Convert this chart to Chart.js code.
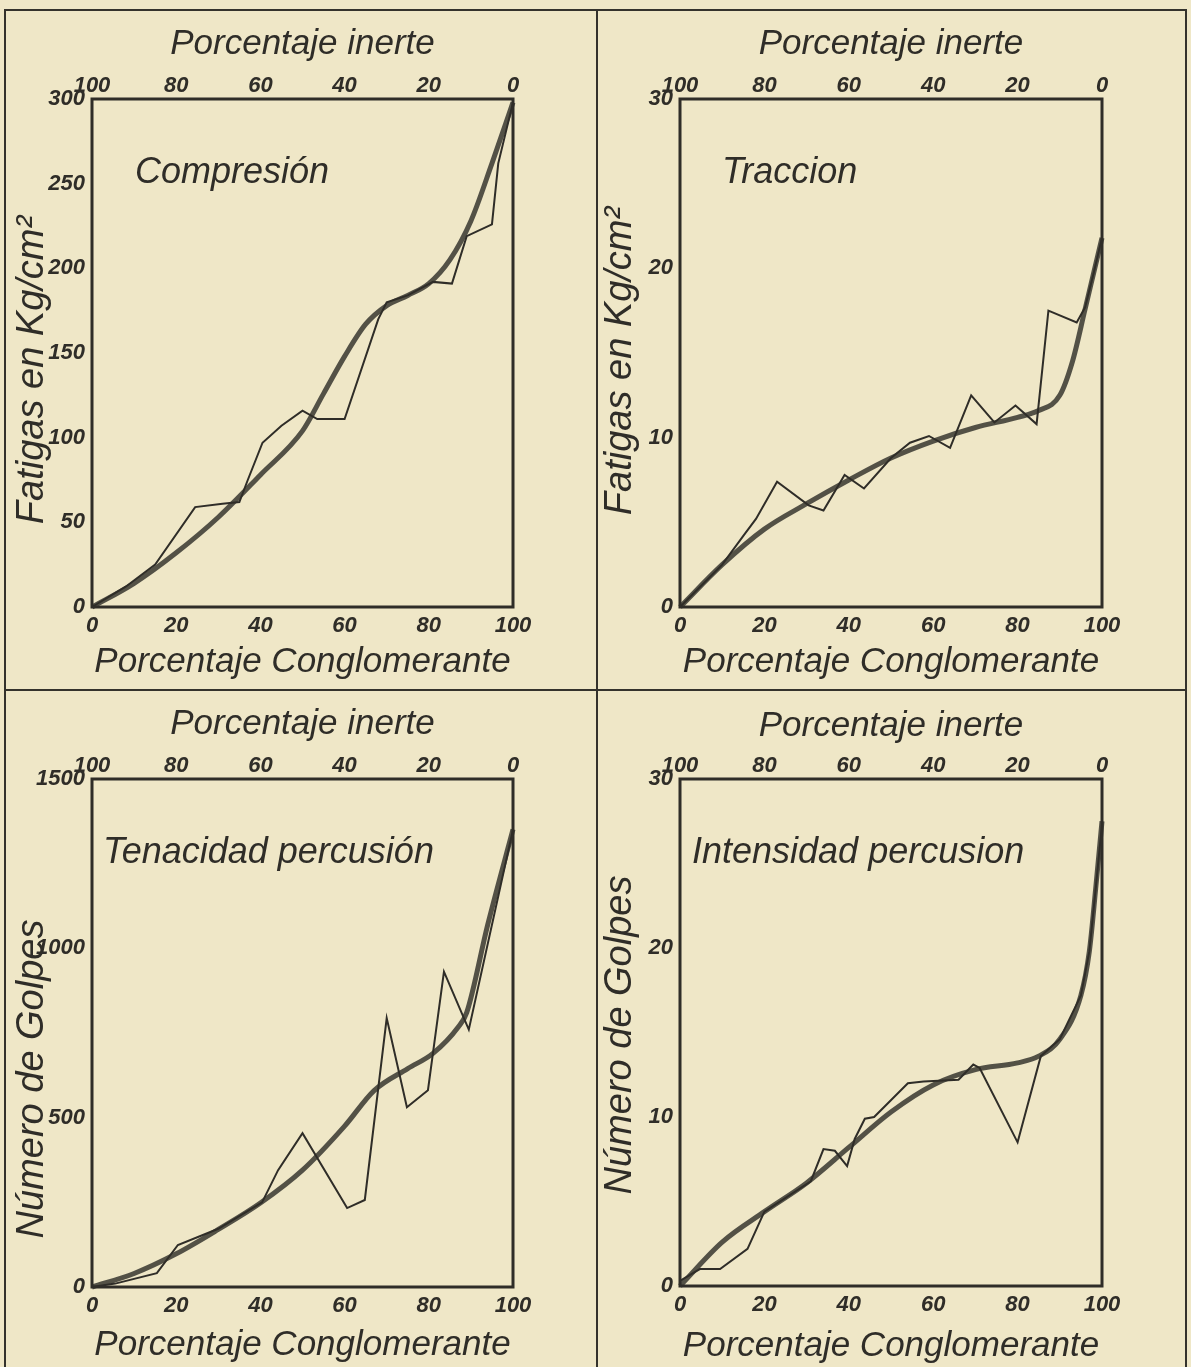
<!DOCTYPE html>
<html>
<head>
<meta charset="utf-8">
<script src="https://cdn.jsdelivr.net/npm/chart.js@4.4.1/dist/chart.umd.min.js"></script>
<style>
  body { margin: 0; background: #efe7c7; }
  #page { position: relative; width: 1191px; height: 1367px; overflow: hidden; background: #efe7c7; }
  canvas { position: absolute; }
  .rule { position: absolute; background: #34322c; }
</style>
</head>
<body>
<div id="page">
  <div class="rule" style="left:5px;top:9px;width:1182px;height:2px"></div>
  <div class="rule" style="left:4px;top:9px;width:2px;height:1358px"></div>
  <div class="rule" style="left:1185px;top:9px;width:2px;height:1358px"></div>
  <div class="rule" style="left:5px;top:689px;width:1182px;height:2px"></div>
  <div class="rule" style="left:596px;top:9px;width:2px;height:1358px"></div>
  <canvas id="c1" width="596" height="690" style="left:0;top:0"></canvas>
  <canvas id="c2" width="595" height="690" style="left:596px;top:0"></canvas>
  <canvas id="c3" width="596" height="677" style="left:0;top:690px"></canvas>
  <canvas id="c4" width="595" height="677" style="left:596px;top:690px"></canvas>
</div>
<script>
// tick labels
const conglomeranteTicks = [0, 20, 40, 60, 80, 100];
const inerteTicks = [100, 80, 60, 40, 20, 0];
const compTicks = [0, 50, 100, 150, 200, 250, 300];
const tracTicks = [0, 10, 20, 30];
const tenaTicks = [0, 500, 1000, 1500];
const inteTicks = [0, 10, 20, 30];

// Compresion (Kg/cm2)
const compMeasX = [0, 8, 15, 24.5, 31, 35, 37, 40.5, 45, 50, 53.5, 60, 68, 70, 75, 81, 85.5, 89, 95, 96.5, 100];
const compMeasY = [0, 12, 25, 59, 61, 62, 75, 97, 107, 116, 111, 111, 170, 180, 184, 192, 191, 219, 226, 262, 298];
const compFitX = [0, 10, 20, 30, 40, 50, 55, 60, 65, 70, 75, 80, 85, 90, 95, 100];
const compFitY = [0, 14, 32, 53, 78, 104, 126, 148, 167, 178, 184, 191, 205, 228, 262, 298];

// Traccion (Kg/cm2)
const tracMeasX = [0, 10, 15, 18, 23, 30.5, 34, 39, 43.6, 50, 54.5, 59, 64, 69, 74.5, 79.5, 84.5, 87.3, 94, 96, 98, 100];
const tracMeasY = [0, 2.5, 4.2, 5.2, 7.4, 6.0, 5.7, 7.8, 7.0, 8.8, 9.7, 10.1, 9.4, 12.5, 10.9, 11.9, 10.8, 17.5, 16.8, 17.7, 19.7, 21.8];
const tracFitX = [0, 10, 20, 30, 40, 50, 60, 70, 80, 85, 90, 93, 96, 98, 100];
const tracFitY = [0, 2.5, 4.6, 6.1, 7.5, 8.8, 9.8, 10.6, 11.2, 11.6, 12.5, 14.5, 17.6, 19.7, 21.8];

// Tenacidad percusion (golpes)
const tenaMeasX = [0, 5.5, 15.4, 20.4, 30, 40.4, 44.2, 50, 60.6, 64.8, 70, 74.8, 79.8, 83.6, 89.5, 100];
const tenaMeasY = [0, 10, 41, 124, 172, 250, 345, 454, 233, 257, 794, 531, 581, 931, 760, 1351];
const tenaFitX = [0, 10, 20, 30, 40, 50, 60, 67, 75, 81, 87, 89, 94, 100];
const tenaFitY = [0, 40, 98, 170, 248, 345, 475, 580, 645, 690, 768, 810, 1070, 1351];

// Intensidad percusion (golpes)
const inteMeasX = [0, 4.7, 9.5, 16, 20, 31, 34, 36.7, 39.6, 41.4, 43.8, 46, 54, 57.7, 66, 69.5, 71, 80, 85.5, 90, 95, 97, 98.5, 100];
const inteMeasY = [0.3, 1.0, 1.0, 2.2, 4.4, 6.2, 8.1, 8.0, 7.1, 8.7, 9.9, 10.0, 12.0, 12.1, 12.2, 13.1, 12.9, 8.5, 13.6, 14.6, 17.2, 19.8, 23.5, 27.3];
const inteFitX = [0, 10, 20, 30, 40, 50, 60, 70, 80, 85, 90, 95, 97, 98.5, 100];
const inteFitY = [0, 2.6, 4.4, 6.1, 8.2, 10.3, 11.9, 12.8, 13.2, 13.6, 14.6, 17.2, 19.8, 23.5, 27.5];

const ink = '#2f2d28';
const family = '"Liberation Sans", Arial, sans-serif';

function zip(xs, ys) {
  return xs.map((x, i) => ({ x: x, y: ys[i] }));
}

// box around the plot area
const frame = {
  id: 'frame',
  afterDraw(chart) {
    const { ctx, chartArea: a } = chart;
    ctx.save();
    ctx.strokeStyle = ink;
    ctx.lineWidth = 3;
    ctx.strokeRect(a.left, a.top, a.right - a.left, a.bottom - a.top);
    ctx.restore();
  }
};

// label inside the plot and the vertical axis title
const panelText = {
  id: 'panelText',
  afterDraw(chart, args, o) {
    const { ctx, chartArea: a } = chart;
    ctx.save();
    ctx.fillStyle = ink;
    ctx.textBaseline = 'middle';
    ctx.textAlign = 'left';
    ctx.font = 'italic 36px ' + family;
    ctx.fillText(o.label, a.left + o.labelX, a.top + 74);
    ctx.translate(a.left - 60, a.top + o.yTitleY);
    ctx.rotate(-Math.PI / 2);
    ctx.textAlign = 'center';
    ctx.font = 'italic 38px ' + family;
    ctx.fillText(o.yTitle, 0, 0);
    ctx.restore();
  }
};

function panel(id, p) {
  const tickFont = { family: family, style: 'italic', weight: 'bold', size: 22 };
  const titleFont = { family: family, style: 'italic', size: 35 };
  return new Chart(document.getElementById(id), {
    type: 'line',
    data: {
      datasets: [
        {
          label: 'Ensayos',
          data: zip(p.mx, p.my),
          borderColor: ink,
          borderWidth: 2,
          tension: 0,
          pointRadius: 0,
          clip: false
        },
        {
          label: 'Curva media',
          data: zip(p.fx, p.fy),
          borderColor: 'rgba(62,60,52,0.88)',
          borderWidth: 5,
          cubicInterpolationMode: 'monotone',
          pointRadius: 0,
          clip: false
        }
      ]
    },
    options: {
      responsive: false,
      animation: false,
      events: [],
      layout: { padding: { right: p.padR } },
      plugins: {
        legend: { display: false },
        tooltip: { enabled: false },
        panelText: { label: p.label, labelX: p.labelX, yTitle: p.yTitle, yTitleY: p.yTitleY }
      },
      scales: {
        x: {
          type: 'linear',
          position: 'bottom',
          min: 0,
          max: 100,
          grid: { display: false, drawTicks: false },
          border: { display: false },
          afterFit: s => { s.height = p.bottomH; },
          afterBuildTicks: s => { s.ticks = conglomeranteTicks.map(v => ({ value: v })); },
          ticks: { font: tickFont, color: ink, padding: 6, maxRotation: 0, autoSkip: false, callback: v => String(v) },
          title: {
            display: true,
            text: 'Porcentaje Conglomerante',
            font: titleFont,
            color: ink,
            padding: { top: 0, bottom: p.bottomTitlePad }
          }
        },
        x2: {
          type: 'linear',
          axis: 'x',
          position: 'top',
          min: 0,
          max: 100,
          reverse: true,
          grid: { display: false, drawTicks: false },
          border: { display: false },
          afterFit: s => { s.height = p.topH; },
          afterBuildTicks: s => { s.ticks = inerteTicks.map(v => ({ value: v })); },
          ticks: { font: tickFont, color: ink, padding: 0, maxRotation: 0, autoSkip: false, callback: v => String(v) },
          title: {
            display: true,
            text: 'Porcentaje inerte',
            font: titleFont,
            color: ink,
            padding: { top: p.topTitlePad, bottom: 0 }
          }
        },
        y: {
          type: 'linear',
          position: 'left',
          min: 0,
          max: p.yTicks[p.yTicks.length - 1],
          grid: { display: false, drawTicks: false },
          border: { display: false },
          afterFit: s => { s.width = p.leftW; },
          afterBuildTicks: s => { s.ticks = p.yTicks.map(v => ({ value: v })); },
          ticks: { font: tickFont, color: ink, padding: 7, autoSkip: false, callback: v => String(v) }
        }
      }
    },
    plugins: [frame, panelText]
  });
}

panel('c1', {
  mx: compMeasX, my: compMeasY, fx: compFitX, fy: compFitY, yTicks: compTicks,
  label: 'Compresión', labelX: 43, yTitle: 'Fatigas en Kg/cm²', yTitleY: 271,
  leftW: 92, padR: 83, topH: 99, bottomH: 83, topTitlePad: 23, bottomTitlePad: 7
});
panel('c2', {
  mx: tracMeasX, my: tracMeasY, fx: tracFitX, fy: tracFitY, yTicks: tracTicks,
  label: 'Traccion', labelX: 42, yTitle: 'Fatigas en Kg/cm²', yTitleY: 262,
  leftW: 84, padR: 89, topH: 99, bottomH: 83, topTitlePad: 23, bottomTitlePad: 7
});
panel('c3', {
  mx: tenaMeasX, my: tenaMeasY, fx: tenaFitX, fy: tenaFitY, yTicks: tenaTicks,
  label: 'Tenacidad percusión', labelX: 11, yTitle: 'Número de Golpes', yTitleY: 300,
  leftW: 92, padR: 83, topH: 89, bottomH: 80, topTitlePad: 13, bottomTitlePad: 1
});
panel('c4', {
  mx: inteMeasX, my: inteMeasY, fx: inteFitX, fy: inteFitY, yTicks: inteTicks,
  label: 'Intensidad percusion', labelX: 12, yTitle: 'Número de Golpes', yTitleY: 256,
  leftW: 84, padR: 89, topH: 89, bottomH: 81, topTitlePad: 15, bottomTitlePad: 0
});
</script>
</body>
</html>
